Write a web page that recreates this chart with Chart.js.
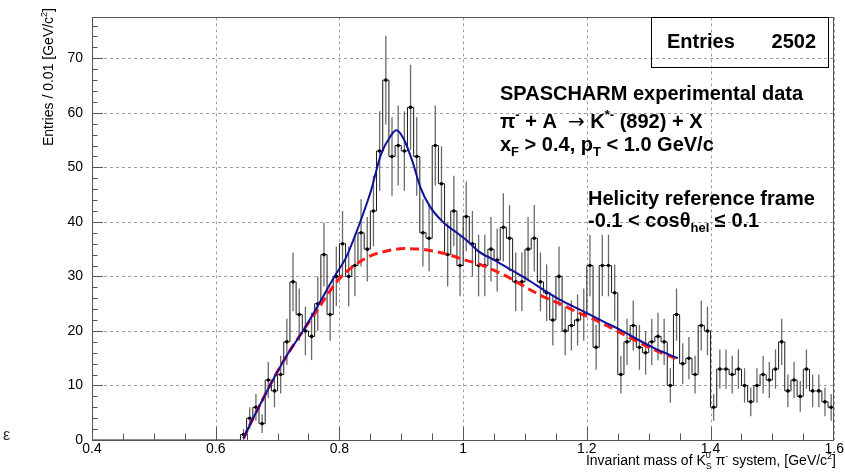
<!DOCTYPE html>
<html>
<head>
<meta charset="utf-8">
<script src="https://cdn.jsdelivr.net/npm/chart.js@4.4.1/dist/chart.umd.min.js"></script>
<style>
  html, body { margin: 0; padding: 0; background: #fff; }
  #wrap { width: 845px; height: 476px; }
</style>
</head>
<body>
<div id="wrap"><canvas id="massChart" width="845" height="476"></canvas></div>
<script>
// histogram: entries per 0.01 GeV/c^2 bin, first filled bin starts at 0.64
const binStart = 0.64;
const binWidth = 0.01;
const counts = [
  1, 4, 6, 3, 11, 9, 12, 18, 29, 23,
  20, 19, 25, 34, 23, 30, 36, 30, 32, 38,
  35, 42, 53, 66, 52, 54, 53, 61, 52, 38,
  37, 54, 47, 34, 42, 32, 41, 36, 32, 32,
  35, 33, 39, 37, 29, 29, 35, 37, 29, 27,
  22, 30, 20, 21, 22, 23, 32, 17, 32, 32,
  27, 12, 18, 21, 17, 16, 18, 19, 18, 10,
  23, 14, 15, 12, 21, 20, 6, 13, 13, 12,
  13, 10, 7, 10, 12, 11, 13, 18, 9, 11,
  8, 13, 9, 9, 7, 6
];

// full fit (signal + background)
const fitMass = [0.645, 0.66, 0.675, 0.69, 0.715, 0.741, 0.767, 0.792, 0.81, 0.824, 0.84, 0.851, 0.867, 0.883, 0.892, 0.904, 0.918, 0.931, 0.947, 0.969, 0.99, 1.006, 1.025, 1.052, 1.079, 1.106, 1.133, 1.16, 1.187, 1.208, 1.227, 1.254, 1.281, 1.308, 1.347];
const fitValue = [0.3, 3.9, 7.2, 10.5, 15.5, 20, 25, 30, 33.3, 37.1, 42, 45.7, 52.3, 55.8, 56.8, 55.2, 51.1, 46.3, 42.7, 39.8, 38, 36.6, 34.6, 32.9, 31.1, 29.3, 27.3, 25.5, 24, 22.8, 21.7, 20.2, 18.5, 16.9, 15];

// background only
const bgMass = [0.645, 0.66, 0.675, 0.69, 0.715, 0.741, 0.767, 0.797, 0.824, 0.851, 0.878, 0.904, 0.931, 0.958, 0.979, 1.006, 1.025, 1.052, 1.079, 1.106, 1.133, 1.16, 1.187, 1.208, 1.227, 1.254, 1.281, 1.308, 1.347];
const bgValue = [0.3, 3.9, 7.2, 10.5, 15.5, 20, 24.3, 29.2, 32, 33.8, 34.7, 35.1, 35, 34.5, 33.9, 32.9, 32.3, 31, 29.5, 27.7, 26.1, 24.8, 23.3, 22.3, 21.25, 19.7, 18.1, 16.6, 14.8];

const xTicks = [0.4, 0.6, 0.8, 1.0, 1.2, 1.4, 1.6];
const yTicks = [0, 10, 20, 30, 40, 50, 60, 70];
const entries = 2502;

const histPoints = [{x: 0.4, y: 0}];
counts.forEach((c, i) => histPoints.push({x: binStart + i * binWidth, y: c}));
histPoints.push({x: 1.6, y: counts[counts.length - 1]});

const markerPoints = counts.map((c, i) => ({x: binStart + (i + 0.5) * binWidth, y: c}));
const fitPoints = fitMass.map((m, i) => ({x: m, y: fitValue[i]}));
const bgPoints = bgMass.map((m, i) => ({x: m, y: bgValue[i]}));

const FONT = '"Liberation Sans", Arial, sans-serif';

// dotted ROOT-style grid at the major ticks + poisson error bars, sqrt(N)
const gridAndErrors = {
  id: 'gridAndErrors',
  beforeDatasetsDraw(chart) {
    const ctx = chart.ctx;
    const a = chart.chartArea;
    const xs = chart.scales.x, ys = chart.scales.y;
    ctx.save();
    ctx.strokeStyle = '#a0a0a0';
    ctx.lineWidth = 1;
    ctx.setLineDash([3, 3]);
    ctx.beginPath();
    xs.ticks.forEach(t => {
      const px = Math.round(xs.getPixelForValue(t.value)) + 0.5;
      ctx.moveTo(px, a.top);
      ctx.lineTo(px, a.bottom);
    });
    ys.ticks.forEach(t => {
      const py = Math.round(ys.getPixelForValue(t.value)) + 0.5;
      ctx.moveTo(a.left, py);
      ctx.lineTo(a.right, py);
    });
    ctx.stroke();
    ctx.setLineDash([]);

    const meta = chart.getDatasetMeta(1);
    ctx.strokeStyle = '#6a6a6a';
    ctx.lineWidth = 1.3;
    meta.data.forEach((pt, i) => {
      const c = counts[i];
      const e = Math.sqrt(c);
      ctx.beginPath();
      ctx.moveTo(pt.x, ys.getPixelForValue(c - e));
      ctx.lineTo(pt.x, Math.max(ys.getPixelForValue(c + e), a.top));
      ctx.stroke();
    });
    ctx.restore();
  }
};

function drawPieces(ctx, x, y, pieces) {
  let cx = x;
  pieces.forEach(p => {
    ctx.font = p.f;
    ctx.fillText(p.t, cx, y + (p.dy || 0));
    if (p.stay !== true) cx += ctx.measureText(p.t).width;
  });
  return cx;
}
function piecesWidth(ctx, pieces) {
  let w = 0;
  pieces.forEach(p => {
    ctx.font = p.f;
    if (p.stay !== true) w += ctx.measureText(p.t).width;
  });
  return w;
}

const frameAndText = {
  id: 'frameAndText',
  afterDraw(chart) {
    const ctx = chart.ctx;
    const a = chart.chartArea;
    const xs = chart.scales.x, ys = chart.scales.y;
    ctx.save();

    // frame
    ctx.strokeStyle = '#555';
    ctx.lineWidth = 1;
    ctx.strokeRect(Math.round(a.left) + 0.5, Math.round(a.top) + 0.5, Math.round(a.right - a.left) - 1, Math.round(a.bottom - a.top));

    // inner ticks
    ctx.beginPath();
    for (let v = 0.45; v < 1.6; v += 0.05) {
      const px = Math.round(xs.getPixelForValue(v)) + 0.5;
      const major = Math.abs(v * 5 - Math.round(v * 5)) < 0.01;
      ctx.moveTo(px, a.bottom);
      ctx.lineTo(px, a.bottom - (major ? 13 : 6.5));
    }
    for (let v = 2; v < 78; v += 2) {
      const py = Math.round(ys.getPixelForValue(v)) + 0.5;
      ctx.moveTo(a.left, py);
      ctx.lineTo(a.left + (v % 10 === 0 ? 11 : 5.5), py);
    }
    ctx.stroke();

    ctx.fillStyle = '#000';
    ctx.textBaseline = 'alphabetic';
    ctx.textAlign = 'left';

    // axis titles
    const yTitle = [
      {t: 'Entries / 0.01 [GeV/c', f: '14px ' + FONT},
      {t: '2', f: '9px ' + FONT, dy: -6},
      {t: ']', f: '14px ' + FONT}
    ];
    ctx.save();
    ctx.translate(53, 8);
    ctx.rotate(-Math.PI / 2);
    drawPieces(ctx, -piecesWidth(ctx, yTitle), 0, yTitle);
    ctx.restore();

    const xTitle = [
      {t: 'Invariant mass of K', f: '14px ' + FONT},
      {t: '0', f: '9px ' + FONT, dy: -7, stay: true},
      {t: 'S', f: '9px ' + FONT, dy: 4},
      {t: ' \u03c0', f: '14px ' + FONT},
      {t: '-', f: '9px ' + FONT, dy: -6},
      {t: ' system, [GeV/c', f: '14px ' + FONT},
      {t: '2', f: '9px ' + FONT, dy: -6},
      {t: ']', f: '14px ' + FONT}
    ];
    drawPieces(ctx, 836 - piecesWidth(ctx, xTitle), 465, xTitle);

    // stray glyph at lower left of the original image
    ctx.fillStyle = '#333';
    ctx.font = '16px ' + FONT;
    ctx.fillText('\u03b5', 3, 440);
    ctx.fillStyle = '#000';

    // stats box
    ctx.strokeStyle = '#000';
    ctx.strokeRect(651.5, 17.5, 177, 50);
    ctx.font = 'bold 20px ' + FONT;
    ctx.fillText('Entries', 667, 48);
    ctx.textAlign = 'right';
    ctx.fillText(String(entries), 816, 48);
    ctx.textAlign = 'left';

    const B = 'bold 20px ' + FONT;
    const S = 'bold 13px ' + FONT;
    drawPieces(ctx, 500, 100, [{t: 'SPASCHARM experimental data', f: B}]);
    drawPieces(ctx, 500, 128, [
      {t: '\u03c0', f: B},
      {t: '-', f: S, dy: -9},
      {t: ' + A  ', f: B},
      {t: '\u2192', f: '20px "DejaVu Sans"'},
      {t: ' K', f: B},
      {t: '*-', f: S, dy: -9},
      {t: ' (892) + X', f: B}
    ]);
    drawPieces(ctx, 500, 151, [
      {t: 'x', f: B},
      {t: 'F', f: S, dy: 5},
      {t: ' > 0.4, p', f: B},
      {t: 'T', f: S, dy: 5},
      {t: ' < 1.0 GeV/c', f: B}
    ]);
    drawPieces(ctx, 588, 205, [{t: 'Helicity reference frame', f: B}]);
    drawPieces(ctx, 588, 227, [
      {t: '-0.1 < cos', f: B},
      {t: '\u03b8', f: B},
      {t: 'hel', f: S, dy: 5},
      {t: ' \u2264 0.1', f: B}
    ]);
    ctx.restore();
  }
};

const ctx = document.getElementById('massChart').getContext('2d');
new Chart(ctx, {
  type: 'line',
  data: {
    datasets: [
      {
        data: histPoints,
        stepped: true,
        borderColor: '#1a1a1a',
        borderWidth: 1,
        pointRadius: 0,
        fill: false,
        order: 4
      },
      {
        type: 'scatter',
        data: markerPoints,
        showLine: false,
        pointRadius: 1.8,
        pointBackgroundColor: '#000',
        pointBorderColor: '#000',
        pointBorderWidth: 0,
        order: 3
      },
      {
        data: bgPoints,
        borderColor: '#ff1a1a',
        borderWidth: 3,
        borderDash: [9, 5],
        pointRadius: 0,
        tension: 0.4,
        cubicInterpolationMode: 'monotone',
        fill: false,
        order: 2
      },
      {
        data: fitPoints,
        borderColor: '#10109a',
        borderWidth: 2,
        pointRadius: 0,
        tension: 0.4,
        cubicInterpolationMode: 'monotone',
        fill: false,
        order: 1
      }
    ]
  },
  options: {
    responsive: false,
    animation: false,
    devicePixelRatio: 1,
    layout: { padding: { top: 5, right: 8, left: 0, bottom: 0 } },
    plugins: {
      legend: { display: false },
      tooltip: { enabled: false }
    },
    scales: {
      x: {
        type: 'linear',
        min: xTicks[0],
        max: xTicks[xTicks.length - 1],
        afterBuildTicks: (scale) => { scale.ticks = xTicks.map(v => ({value: v})); },
        afterFit: (scale) => { scale.height = 36; },
        ticks: {
          autoSkip: false,
          maxRotation: 0,
          padding: 1,
          color: '#000',
          font: { family: FONT, size: 14 },
          callback: (v) => String(Math.round(v * 10) / 10)
        },
        grid: { display: false, drawTicks: false },
        border: { display: false }
      },
      y: {
        type: 'linear',
        min: 0,
        max: 77.5,
        afterBuildTicks: (scale) => { scale.ticks = yTicks.map(v => ({value: v})); },
        afterFit: (scale) => { scale.width = 92; },
        ticks: {
          padding: 9,
          color: '#000',
          font: { family: FONT, size: 14 }
        },
        grid: { display: false, drawTicks: false },
        border: { display: false }
      }
    }
  },
  plugins: [gridAndErrors, frameAndText]
});
</script>
</body>
</html>
